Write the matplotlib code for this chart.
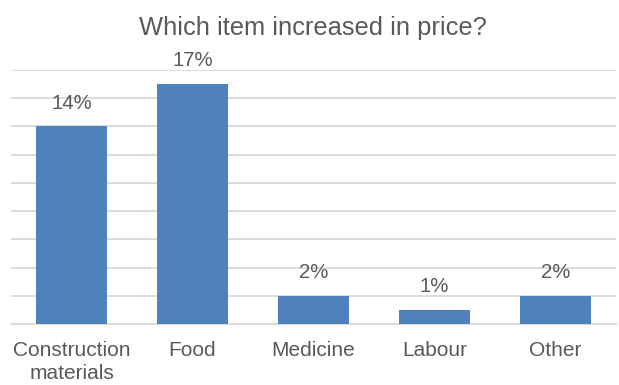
import matplotlib
matplotlib.use("Agg")
from matplotlib import pyplot as plt

categories = ['Construction\nmaterials', 'Food', 'Medicine', 'Labour', 'Other']
values = [14, 17, 2, 1, 2]
labels = ['14%', '17%', '2%', '1%', '2%']

plt.rcParams['font.family'] = ['Liberation Sans', 'DejaVu Sans']
grey = '#595959'

fig = plt.figure(figsize=(6.19, 3.85), dpi=100)
ax = fig.add_axes([11 / 619, 61 / 385, 605 / 619, 254 / 385])

x = range(len(categories))
ax.bar(x, values, width=0.58, color='#4f81bd', zorder=3)
for xi, v, t in zip(x, values, labels):
    ax.annotate(t, (xi, v), xytext=(0, 10), textcoords='offset points',
                ha='center', va='bottom', fontsize=14.7, color=grey)

ax.set_xlim(-0.5, len(categories) - 0.5)
ax.set_ylim(0, 18)
ax.set_yticks(range(0, 19, 2))
ax.yaxis.grid(True, color='#d9d9d9', linewidth=1.3, zorder=0)
ax.tick_params(axis='y', length=0, labelleft=False)
ax.set_xticks(list(x))
ax.set_xticklabels(categories, fontsize=15, color=grey, linespacing=1.25)
ax.tick_params(axis='x', length=0, pad=12.5)
for s in ['top', 'right', 'left']:
    ax.spines[s].set_visible(False)
ax.spines['bottom'].set_color('#d9d9d9')
ax.spines['bottom'].set_linewidth(1.3)

fig.text(313 / 619, 1 - 28 / 385, 'Which item increased in price?', ha='center',
         va='center', fontsize=18.4, color=grey)

fig.savefig('out.png', dpi=100)
